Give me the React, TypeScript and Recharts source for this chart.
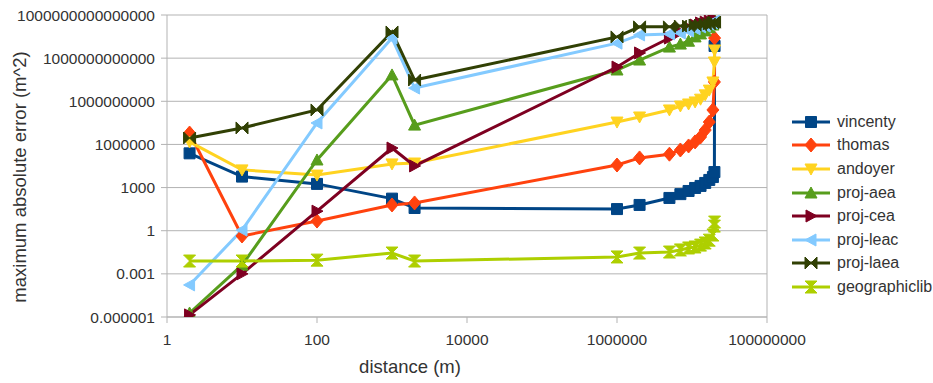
import { LineChart, Line, XAxis, YAxis, CartesianGrid, Legend, ReferenceLine } from "recharts";

const distances = [2, 10, 100, 1000, 2000, 1e6, 2e6, 5e6, 7e6, 9e6, 1.1e7, 1.3e7, 1.5e7, 1.7e7, 1.9e7, 1.99e7, 2e7];

const vincenty = [240000, 5800, 1800, 170, 38, 32, 62, 190, 350, 580, 940, 1300, 2100, 3400, 5400, 12000, 7e12];
const thomas = [6.2e6, 0.43, 4.7, 62, 85, 37000, 115000, 210000, 410000, 780000, 1.5e6, 3.3e6, 1e7, 3.6e7, 2.5e8, 2.2e10, 2.5e13];
const andoyer = [1.5e6, 17000, 7400, 44000, 51000, 3.6e7, 8.1e7, 2.5e8, 4.7e8, 6.5e8, 9e8, 1.4e9, 2.8e9, 6e9, 2.2e10, 5.4e11, 3.7e12];
const projAea = [1.9e-6, 0.004, 83000, 6.8e10, 2.2e7, 1.5e11, 7.4e11, 5.9e12, 9.5e12, 1.5e13, 3e13, 4.8e13, 7.8e13, 1.3e14, 2e14, 3.2e14, 4.5e14];
const projCea = [1.4e-6, 0.001, 23, 5.6e5, 32000, 2.4e11, 2.3e12, 2.5e13, 6.6e13, 1.3e14, 2e14, 2.8e14, 3.2e14, 3.8e14, 4.5e14, 4.5e14, 5.2e14];
const projLeac = [1.7e-4, 1.1, 3.1e7, 2.5e13, 8.3e9, 1.1e13, 4.1e13, 4.8e13, 5.6e13, 7.8e13, 1.1e14, 1.5e14, 1.7e14, 2.3e14, 2.8e14, 3.2e14, 3.8e14];
const projLaea = [2.8e6, 1.4e7, 2.5e8, 6.6e13, 3e10, 3e13, 1.5e14, 1.5e14, 1.7e14, 1.7e14, 2e14, 2e14, 2.4e14, 2.4e14, 2.8e14, 3.2e14, 3.2e14];
const geographiclib = [0.0078, 0.0078, 0.009, 0.028, 0.0078, 0.015, 0.028, 0.033, 0.046, 0.063, 0.074, 0.1, 0.14, 0.22, 0.5, 2.1, 4];

const xTicks = [1, 100, 10000, 1000000, 100000000];
const xTickLabels = ["1", "100", "10000", "1000000", "100000000"];
const yTicks = [1e-6, 1e-3, 1, 1e3, 1e6, 1e9, 1e12, 1e15];
const yTickLabels = [
  "0.000001",
  "0.001",
  "1",
  "1000",
  "1000000",
  "1000000000",
  "1000000000000",
  "1000000000000000",
];

const series = [
  { key: "vincenty", name: "vincenty", color: "#004586", shape: "square", values: vincenty },
  { key: "thomas", name: "thomas", color: "#ff420e", shape: "diamond", values: thomas },
  { key: "andoyer", name: "andoyer", color: "#ffd320", shape: "down", values: andoyer },
  { key: "projAea", name: "proj-aea", color: "#579d1c", shape: "up", values: projAea },
  { key: "projCea", name: "proj-cea", color: "#7e0021", shape: "right", values: projCea },
  { key: "projLeac", name: "proj-leac", color: "#83caff", shape: "left", values: projLeac },
  { key: "projLaea", name: "proj-laea", color: "#314004", shape: "bowtie", values: projLaea },
  { key: "geographiclib", name: "geographiclib", color: "#aecf00", shape: "hourglass", values: geographiclib },
];

const data = distances.map((d, i) => {
  const row: Record<string, number> = { distance: d };
  series.forEach((s) => {
    row[s.key] = s.values[i];
  });
  return row;
});

const FONT = "'Liberation Sans', Arial, sans-serif";
const TEXT = "#333333";
const GRID = "#b3b3b3";

function markerPoints(shape: string): string {
  switch (shape) {
    case "diamond":
      return "0,-7 6,0 0,7 -6,0";
    case "down":
      return "-6,-5 6,-5 0,6";
    case "up":
      return "-6,5 6,5 0,-6";
    case "right":
      return "-5,-6 -5,6 6,0";
    case "left":
      return "5,-6 5,6 -6,0";
    case "bowtie":
      return "-6,-6 6,6 6,-6 -6,6";
    case "hourglass":
      return "-6,-6 6,-6 -6,6 6,6";
    default:
      return "-5.5,-5.5 5.5,-5.5 5.5,5.5 -5.5,5.5";
  }
}

function Marker({ cx, cy, shape, color }: { cx: number; cy: number; shape: string; color: string }) {
  if (cx == null || cy == null || isNaN(cx) || isNaN(cy)) return null;
  return (
    <polygon
      points={markerPoints(shape)}
      transform={`translate(${cx},${cy})`}
      fill={color}
      stroke={color}
      strokeWidth={1}
      strokeLinejoin="miter"
    />
  );
}

function renderLegend() {
  return (
    <div style={{ fontFamily: FONT, fontSize: 16, color: TEXT }}>
      {series.map((s) => (
        <div key={s.key} style={{ display: "flex", alignItems: "center", height: 23.6 }}>
          <svg width={40} height={16} style={{ marginRight: 6 }}>
            <line x1={1} y1={8} x2={39} y2={8} stroke={s.color} strokeWidth={3} />
            <Marker cx={20} cy={8} shape={s.shape} color={s.color} />
          </svg>
          <span>{s.name}</span>
        </div>
      ))}
    </div>
  );
}

export default function App() {
  return (
    <div style={{ position: "absolute", left: 0, top: 0, background: "#fff" }}>
      <LineChart width={933} height={383} data={data} margin={{ top: 15, right: 166, bottom: 6, left: 0 }}>
        <CartesianGrid stroke={GRID} horizontal={true} vertical={false} />
        <XAxis
          dataKey="distance"
          type="number"
          scale="log"
          domain={[1, 1e8]}
          allowDataOverflow
          ticks={xTicks}
          tickFormatter={(_v: number, i: number) => xTickLabels[i]}
          height={60}
          stroke={GRID}
          tickSize={6}
          tickMargin={11}
          tick={{ fill: TEXT, fontSize: 15.5, fontFamily: FONT }}
          label={{
            content: ({ viewBox }: any) => (
              <text
                x={410}
                y={viewBox.y + 56}
                textAnchor="middle"
                fill={TEXT}
                fontSize={18.5}
                fontFamily={FONT}
              >
                distance (m)
              </text>
            ),
          }}
        />
        <YAxis
          type="number"
          scale="log"
          domain={[1e-6, 1e15]}
          allowDataOverflow
          ticks={yTicks}
          tickFormatter={(_v: number, i: number) => yTickLabels[i]}
          width={167}
          stroke={GRID}
          tickSize={6}
          tickMargin={6}
          tick={{ fill: TEXT, fontSize: 15.5, fontFamily: FONT }}
          label={{
            content: ({ viewBox }: any) => {
              const x = 19;
              const y = viewBox.y + viewBox.height / 2 + 11;
              return (
                <text
                  x={x}
                  y={y}
                  transform={`rotate(-90, ${x}, ${y})`}
                  textAnchor="middle"
                  dominantBaseline="central"
                  fill={TEXT}
                  fontSize={18.5}
                  fontFamily={FONT}
                >
                  maximum absolute error (m^2)
                </text>
              );
            },
          }}
        />
        <ReferenceLine x={1e8} stroke={GRID} />
        {series.map((s) => (
          <Line
            key={s.key}
            type="linear"
            dataKey={s.key}
            name={s.name}
            stroke={s.color}
            strokeWidth={3}
            isAnimationActive={false}
            dot={(p: any) => <Marker key={`${s.key}-${p.index}`} cx={p.cx} cy={p.cy} shape={s.shape} color={s.color} />}
            activeDot={false}
          />
        ))}
        <Legend
          layout="vertical"
          align="center"
          verticalAlign="middle"
          content={renderLegend}
          wrapperStyle={{ left: 791, top: 110, width: 142 }}
        />
      </LineChart>
    </div>
  );
}
